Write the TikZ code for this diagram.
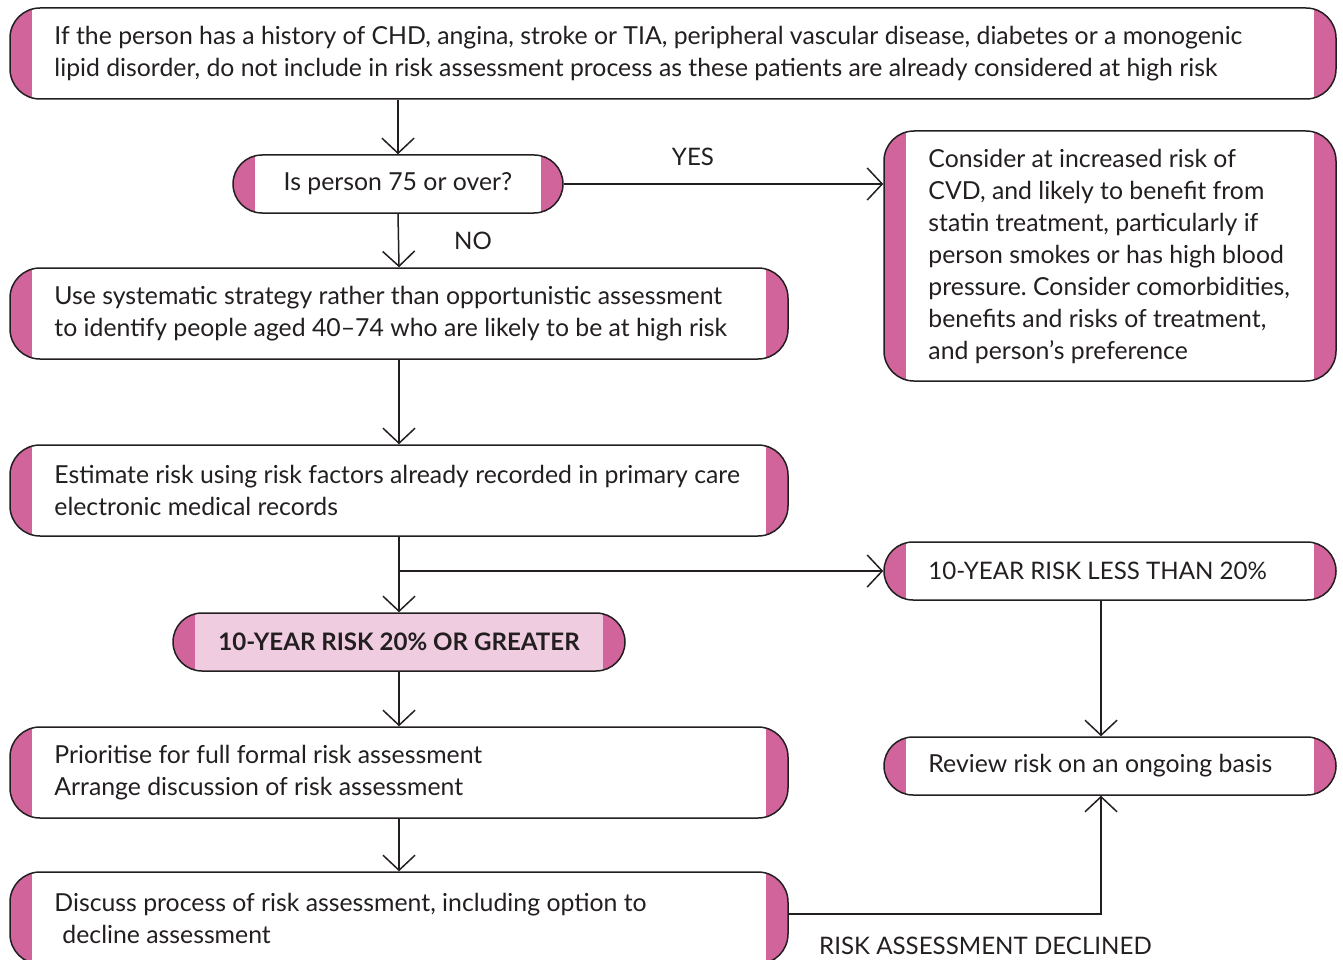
\documentclass[tikz,border=0pt]{standalone}
\usepackage{fontspec}
\setmainfont{Lato}
\frenchspacing
\usetikzlibrary{arrows.meta,calc}
\definecolor{ink}{HTML}{231F20}
\definecolor{capc}{HTML}{D0649B}
\definecolor{soft}{HTML}{EFCCDF}
\tikzset{
  capbox/.style={draw=ink, line width=1.5pt, fill=white, rounded corners=#1, inner sep=0pt,
    path picture={
      \fill[capc, sharp corners] (path picture bounding box.south west) rectangle ([xshift=22pt]path picture bounding box.north west);
      \fill[capc, sharp corners] (path picture bounding box.north east) rectangle ([xshift=-22pt]path picture bounding box.south east);
    }},
  capbox/.default=30pt,
  txt/.style={font=\fontsize{24.8}{32}\selectfont, text=ink, align=left, inner sep=0pt},
  lbl/.style={font=\fontsize{24.8}{32}\selectfont, text=ink, inner sep=0pt},
  caps/.style={font=\fontsize{24.1}{32}\selectfont},
  arr/.style={draw=ink, line width=1.5pt, -{Straight Barb[length=15pt,width=32pt]}},
}
\begin{document}
\begin{tikzpicture}[x=1pt,y=-1pt]
\useasboundingbox (0,0) rectangle (1343,960);
\clip (0,0) rectangle (1343,960);

% left column
\node[capbox, minimum width=1326pt, minimum height=91pt] (b1) at (673,53.5) {};
\node[txt, anchor=west] (t1) at ([xshift=45pt]b1.west) {If the person has a history of CHD, angina, stroke or TIA, peripheral vascular disease, diabetes or a monogenic\\lipid disorder, do not include in risk assessment process as these patients are already considered at high risk};

\node[capbox=29pt, minimum width=330pt, minimum height=58pt] (b2) at (398,184) {};
\node[lbl] (t2) at (b2.center) {Is person 75 or over?};

\node[capbox, minimum width=778pt, minimum height=91pt] (b3) at (399,313.5) {};
\node[txt, anchor=west] (t3) at ([xshift=45pt]b3.west) {Use systematic strategy rather than opportunistic assessment\\to identify people aged 40--74 who are likely to be at high risk};

\node[capbox, minimum width=778pt, minimum height=91pt] (b4) at (399,490.5) {};
\node[txt, anchor=west] (t4) at ([xshift=45pt]b4.west) {Estimate risk using risk factors already recorded in primary care\\electronic medical records};

\node[capbox=29pt, fill=soft, minimum width=452pt, minimum height=58pt] (b9) at (399,642) {};
\node[lbl, font=\fontsize{24.1}{32}\selectfont\bfseries] (t9) at (b9.center) {10-YEAR RISK 20\% OR GREATER};

\node[capbox, minimum width=778pt, minimum height=91pt] (b5) at (399,772.5) {};
\node[txt, anchor=west] (t5) at ([xshift=45pt]b5.west) {Prioritise for full formal risk assessment\\Arrange discussion of risk assessment};

\node[capbox, minimum width=778pt, minimum height=92pt] (b6) at (399,918) {};
\node[txt, anchor=west] (t6) at ([xshift=45pt]b6.west) {Discuss process of risk assessment, including option to\\\hspace*{8pt}decline assessment};

% right column
\node[capbox, minimum width=452pt, minimum height=250pt] (b7) at (1110,256) {};
\node[txt, anchor=west] (t7) at ([xshift=45pt]b7.west) {Consider at increased risk of\\CVD, and likely to benefit from\\statin treatment, particularly if\\person smokes or has high blood\\pressure. Consider comorbidities,\\benefits and risks of treatment,\\and person's preference};

\node[capbox=29pt, minimum width=452pt, minimum height=58pt] (b8) at (1110,571) {};
\node[txt, caps, anchor=west] (t8) at ([xshift=45pt]b8.west) {10-YEAR RISK LESS THAN 20\%};

\node[capbox=29pt, minimum width=452pt, minimum height=58pt] (b10) at (1110,766) {};
\node[txt, anchor=west] (t10) at ([xshift=45pt]b10.west) {Review risk on an ongoing basis};

% connectors
\draw[arr] (b1.south -| b2.north) -- (b2.north);
\draw[arr] (b2.east) -- (b7.west |- b2.east);
\node[lbl, caps] (yes) at (693,157) {YES};
\draw[arr] (b2.south) -- (b3.north);
\node[lbl, caps] (no) at (473,241) {NO};
\draw[arr] (b3.south) -- (b4.north);
\draw[arr] (b4.south) -- (b9.north);
\coordinate (br) at (b4.south |- b8.west);
\draw[arr] (br) -- (b8.west);
\draw[arr] (b9.south) -- (b5.north);
\draw[arr] (b5.south) -- (b6.north);
\draw[arr] ([xshift=-9pt]b8.south) -- ([xshift=-9pt]b10.north);
\draw[arr] ([yshift=4pt]b6.east) -| ([xshift=-9pt]b10.south);
\node[lbl, caps, anchor=west] (dec) at (819,946) {RISK ASSESSMENT DECLINED};
\end{tikzpicture}
\end{document}
